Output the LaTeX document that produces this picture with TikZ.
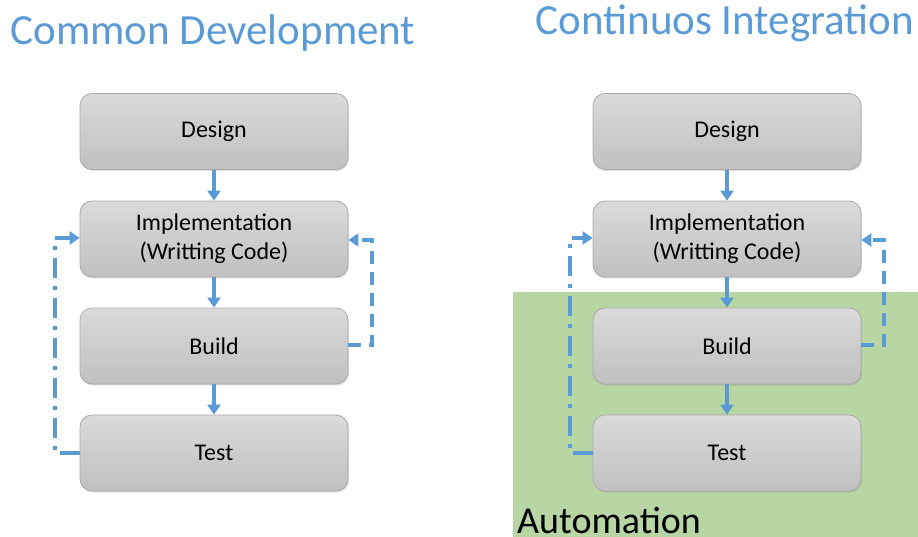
\documentclass[tikz,border=0pt]{standalone}
\usepackage{fontspec}
\setmainfont{Carlito}
\usetikzlibrary{arrows.meta,shadows}
\definecolor{flow}{RGB}{91,155,213}
\definecolor{boxtop}{RGB}{218,218,218}
\definecolor{boxbot}{RGB}{192,192,192}
\definecolor{boxline}{RGB}{170,170,170}
\definecolor{autofill}{RGB}{184,214,164}
\tikzset{
  stage/.style={draw=boxline, line width=0.8pt, rounded corners=12pt,
    top color=boxtop, bottom color=boxbot, minimum width=268pt,
    minimum height=76pt, align=center, font=\fontsize{24}{29}\selectfont,
    drop shadow={shadow xshift=1pt, shadow yshift=-1.5pt, opacity=0.25}},
  flowarrow/.style={draw=flow, line width=3.5pt, -{Triangle[length=10pt,width=13pt]}},
  retry/.style={flowarrow, dash pattern=on 13pt off 8pt},
  loopback/.style={flowarrow, dash pattern=on 20pt off 8pt on 4pt off 8pt},
  heading/.style={text=flow, font=\fontsize{43}{48}\selectfont, anchor=base}
}
\begin{document}
\begin{tikzpicture}[x=1pt, y=-1pt]
\useasboundingbox (0,0) rectangle (918,537);
% automation area
\fill[autofill] (513,292) rectangle (918,537);
\node[anchor=base west, font=\fontsize{38}{40}\selectfont, inner sep=0pt] (autolbl) at (517,533) {Automation};

% headings
\node[heading] (h1) at (213,45) {Common Development};
\node[heading] (h2) at (725,35) {Continuos Integration};

% common development
\node[stage] (d1) at (214,131.5) {Design};
\node[stage] (i1) at (214,239) {Implementation\\(Writting Code)};
\node[stage] (b1) at (214,346) {Build};
\node[stage] (t1) at (214,453) {Test};

% continuous integration
\node[stage] (d2) at (727,131.5) {Design};
\node[stage] (i2) at (727,239) {Implementation\\(Writting Code)};
\node[stage] (b2) at (727,346) {Build};
\node[stage] (t2) at (727,453) {Test};

% forward flow
\foreach \a/\b in {d1/i1, i1/b1, b1/t1, d2/i2, i2/b2, b2/t2}
  \draw[flowarrow] (\a.south) -- (\b.north);

% feedback loops
\coordinate (lt1) at (55,453);  \coordinate (lu1) at (55,238);
\coordinate (rb1) at (372,345); \coordinate (ru1) at (372,240);
\coordinate (lt2) at (570,453); \coordinate (lu2) at (570,238);
\coordinate (rb2) at (884,345); \coordinate (ru2) at (884,240);
\draw[loopback] (t1.west) -- (lt1) -- (lu1) -- (i1.west |- lu1);
\draw[retry] (b1.east |- rb1) -- (rb1) -- (ru1) -- (i1.east |- ru1);
\draw[loopback] (t2.west) -- (lt2) -- (lu2) -- (i2.west |- lu2);
\draw[retry] (b2.east |- rb2) -- (rb2) -- (ru2) -- (i2.east |- ru2);
\end{tikzpicture}
\end{document}
